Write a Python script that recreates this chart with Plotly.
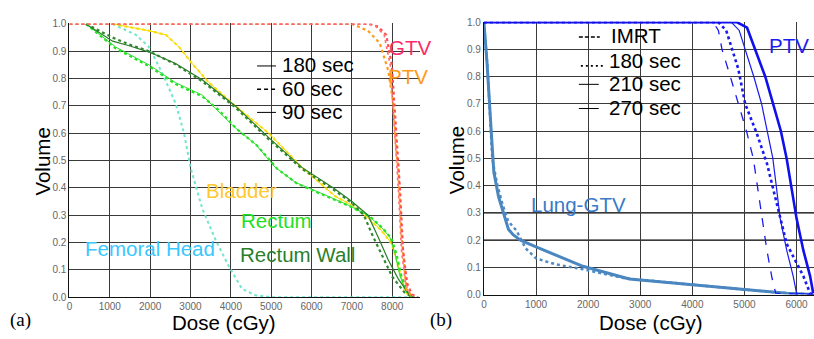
import plotly.graph_objects as go

# ---------------- Panel (a) data: dose (cGy) / volume fraction ----------------
gtv_dose = [0, 7400, 7600, 7800, 7950, 8050, 8150, 8230, 8330, 8450, 8600]
gtv_vol = [1.0, 1.0, 0.99, 0.96, 0.85, 0.62, 0.40, 0.17, 0.05, 0.01, 0.0]
gtv2_dose = [0, 7450, 7650, 7850, 7990, 8090, 8190, 8270, 8370, 8490, 8640]
gtv2_vol = [1.0, 1.0, 0.99, 0.96, 0.85, 0.62, 0.40, 0.17, 0.05, 0.01, 0.0]

ptv_dose = [0, 7000, 7400, 7690, 7900, 8025, 8100, 8150, 8230, 8350, 8500]
ptv_vol = [1.0, 1.0, 0.975, 0.93, 0.83, 0.71, 0.54, 0.47, 0.23, 0.03, 0.0]

bladder_dose = [1070, 1975, 2390, 2720, 3040, 3460, 4110, 4940, 5760, 6580, 7000, 7400, 7740, 7990, 8150, 8300, 8430]
bladder_vol = [1.0, 0.975, 0.96, 0.915, 0.855, 0.785, 0.70, 0.60, 0.475, 0.37, 0.337, 0.29, 0.243, 0.195, 0.113, 0.03, 0.0]

rectum_dose = [410, 1150, 1975, 2630, 3290, 3620, 4110, 4610, 5100, 5600, 6170, 6910, 7400, 7740, 7940, 8070, 8190, 8350, 8480]
rectum_vol = [1.0, 0.915, 0.85, 0.785, 0.74, 0.69, 0.62, 0.56, 0.475, 0.42, 0.385, 0.337, 0.30, 0.254, 0.22, 0.16, 0.078, 0.02, 0.0]
rectum2_dose = [410, 1150, 1975, 2630, 3290, 3700, 4150, 4650, 5150, 5650, 6200, 6950, 7450, 7780, 7980, 8110, 8230, 8380, 8500]
rectum2_vol = [1.0, 0.91, 0.845, 0.78, 0.735, 0.685, 0.615, 0.555, 0.47, 0.415, 0.38, 0.333, 0.295, 0.25, 0.215, 0.155, 0.075, 0.018, 0.0]

rwall_dose = [410, 1070, 1480, 1975, 2630, 3290, 4110, 4940, 5760, 6580, 7000, 7400, 7650, 7900, 8150, 8400, 8550]
rwall_vol = [1.0, 0.937, 0.92, 0.897, 0.855, 0.796, 0.70, 0.584, 0.475, 0.396, 0.35, 0.30, 0.22, 0.137, 0.067, 0.014, 0.0]
rwall2_dose = [410, 1070, 1480, 1975, 2630, 3290, 4110, 4940, 5760, 6580, 7000, 7300, 7500, 7750, 8000, 8300, 8500]
rwall2_vol = [1.0, 0.95, 0.925, 0.9, 0.852, 0.79, 0.695, 0.578, 0.47, 0.39, 0.345, 0.30, 0.23, 0.15, 0.075, 0.018, 0.0]

femoral_dose = [1070, 1650, 1975, 2300, 2630, 2840, 3000, 3290, 3620, 3950, 4280, 4610, 5000, 8600]
femoral_vol = [1.0, 0.96, 0.915, 0.82, 0.71, 0.60, 0.475, 0.325, 0.21, 0.113, 0.03, 0.007, 0.0, 0.0]

# ---------------- Panel (b) data ----------------
ptv_imrt_dose = [0, 4400, 4500, 4570, 4730, 4890, 5040, 5170, 5300, 5430, 5530, 5600, 6335]
ptv_imrt_vol = [1.0, 1.0, 0.97, 0.9, 0.8, 0.7, 0.6, 0.5, 0.34, 0.164, 0.06, 0.005, 0.0]
ptv_180_dose = [0, 4500, 4650, 4760, 4880, 5015, 5240, 5430, 5620, 5810, 6130, 6260, 6335]
ptv_180_vol = [1.0, 1.0, 0.97, 0.9, 0.83, 0.7, 0.59, 0.483, 0.34, 0.187, 0.068, 0.005, 0.0]
ptv_210_dose = [0, 4750, 4900, 5020, 5180, 5330, 5440, 5545, 5610, 5685, 5810, 5935, 6000, 6335]
ptv_210_vol = [1.0, 1.0, 0.97, 0.9, 0.8, 0.7, 0.6, 0.5, 0.4, 0.28, 0.164, 0.068, 0.005, 0.0]
ptv_270_dose = [0, 4860, 5050, 5210, 5400, 5550, 5700, 5810, 5900, 6000, 6130, 6260, 6320]
ptv_270_vol = [1.0, 1.0, 0.98, 0.9, 0.8, 0.7, 0.6, 0.5, 0.4, 0.28, 0.163, 0.068, 0.005]

lung_dose = [0, 60, 140, 190, 280, 370, 470, 560, 700, 1000, 1500, 1900, 2790, 3900, 4860, 5490, 5810, 6320]
lung_vol = [1.0, 0.85, 0.6, 0.45, 0.36, 0.3, 0.24, 0.22, 0.2, 0.175, 0.135, 0.104, 0.057, 0.037, 0.022, 0.01, 0.005, 0.0]
lung2_dose = [0, 70, 160, 260, 360, 465, 625, 800, 1000, 1380, 1900, 2700, 3800, 5000, 5600, 6320]
lung2_vol = [1.0, 0.83, 0.5, 0.4, 0.33, 0.27, 0.235, 0.17, 0.133, 0.111, 0.093, 0.06, 0.04, 0.018, 0.008, 0.0]

# tick labels
y_tickvals = [0.0, 0.1, 0.2, 0.3, 0.4, 0.5, 0.6, 0.7, 0.8, 0.9, 1.0]
y_ticktext = ["0.0", "0.1", "0.2", "0.3", "0.4", "0.5", "0.6", "0.7", "0.8", "0.9", "1.0"]
xa_tickvals = [0, 1000, 2000, 3000, 4000, 5000, 6000, 7000, 8000]
xb_tickvals = [0, 1000, 2000, 3000, 4000, 5000, 6000]

W, H = 814, 339


def PX(x):
    return x / W


def PY(y):
    return 1 - y / H


fig = go.Figure()


def add(x, y, color, dash, width, xa="x", ya="y"):
    fig.add_trace(go.Scatter(x=x, y=y, mode="lines", xaxis=xa, yaxis=ya,
                             line=dict(color=color, dash=dash, width=width),
                             showlegend=False, hoverinfo="skip"))


# panel a traces
add(femoral_dose, femoral_vol, "#70e6cc", "dot", 2)
add(bladder_dose, bladder_vol, "#ffe020", "dot", 2.2)
add(bladder_dose, bladder_vol, "#f5d800", "solid", 1)
add(rectum2_dose, rectum2_vol, "#22e022", "dot", 2.2)
add(rectum_dose, rectum_vol, "#30e030", "solid", 1)
add(rwall2_dose, rwall2_vol, "#2f8a2f", "dot", 2.2)
add(rwall_dose, rwall_vol, "#2a7d2a", "solid", 1.2)
add(ptv_dose, ptv_vol, "#ff9a1a", "dot", 2.2)
add(gtv2_dose, gtv2_vol, "#ff5050", "dot", 2.2)
add(gtv_dose, gtv_vol, "#ff7070", "dot", 1.6)

# panel b traces
add(lung2_dose, lung2_vol, "#4f8ac4", "dot", 2.5, "x2", "y2")
add(lung_dose, lung_vol, "#4a86c0", "solid", 3, "x2", "y2")
add(ptv_imrt_dose, ptv_imrt_vol, "#1a1aee", "dash", 1.3, "x2", "y2")
add(ptv_180_dose, ptv_180_vol, "#1a1aee", "dot", 2.6, "x2", "y2")
add(ptv_210_dose, ptv_210_vol, "#1a1aee", "solid", 1.2, "x2", "y2")
add(ptv_270_dose, ptv_270_vol, "#1010ee", "solid", 2.6, "x2", "y2")

tickfont = dict(family="Liberation Sans, Arial, sans-serif", size=10, color="#666")
axis_common = dict(showgrid=True, gridcolor="#3a3a3a", gridwidth=1, zeroline=False,
                   showline=True, linecolor="#111", linewidth=1.2, ticks="",
                   tickfont=tickfont, fixedrange=True, ticklabeloverflow="allow")

fig.update_layout(
    width=W, height=H, margin=dict(l=0, r=0, t=0, b=0),
    paper_bgcolor="white", plot_bgcolor="white",
    xaxis=dict(domain=[PX(66.7), PX(419)], range=[0, 8700], tickvals=xa_tickvals,
               ticktext=[str(v) for v in xa_tickvals], anchor="y", **axis_common),
    yaxis=dict(domain=[PY(302), PY(19)], range=[0, 1.002], tickvals=y_tickvals,
               ticktext=y_ticktext, anchor="x", **axis_common),
    xaxis2=dict(domain=[PX(482.7), 1.0], range=[0, 6335], tickvals=xb_tickvals,
                ticktext=[str(v) for v in xb_tickvals], anchor="y2", **axis_common),
    yaxis2=dict(domain=[PY(299.3), PY(17.3)], range=[0, 1.002], tickvals=y_tickvals,
                ticktext=y_ticktext, anchor="x2", **axis_common),
)

# emphasised reference lines in panel b
for v in [0.2, 0.3]:
    fig.add_shape(type="line", xref="x2 domain", yref="y2", x0=0, x1=1, y0=v, y1=v,
                  line=dict(color="black", width=1.4), layer="below")

sans = "Liberation Sans, Arial, sans-serif"
serif = "Liberation Serif, Times New Roman, serif"


def text(t, x, y, size=20.5, color="black", xanchor="left", family=sans, angle=0):
    xx = x - 3 if xanchor == "left" else x
    fig.add_annotation(text=t, x=PX(xx), y=PY(y), xref="paper", yref="paper",
                       showarrow=False, xanchor=xanchor, yanchor="middle",
                       font=dict(family=family, size=size, color=color), textangle=angle)


# axis titles
text("Volume", 40, 162, 20.5, xanchor="center", angle=-90)
text("Volume", 455, 160, 20.5, xanchor="center", angle=-90)
text("Dose (cGy)", 222, 328, 20.5, xanchor="center")
text("Dose (cGy)", 650, 328, 20.5, xanchor="center")
text("(a)", 18, 326, 19, xanchor="center", family=serif)
text("(b)", 440, 326, 19, xanchor="center", family=serif)

# structure labels
text("GTV", 388, 44, 20.5, "#ff2a6a")
text("PTV", 387, 74, 20.5, "#ff9a1a")
text("Bladder", 205, 192, 20.5, "#ffc830")
text("Rectum", 240, 223, 20.5, "#22e022")
text("Femoral Head", 83, 252, 20.5, "#38c8ff")
text("Rectum Wall", 239, 258, 20.5, "#2a7f2a")
text("PTV", 770, 42, 20.5, "#1c1cee")
text("Lung-GTV", 531, 206, 20.5, "#3a7ac8")

# legend (a)
text("180 sec", 281, 62)
text("60 sec", 281, 86)
text("90 sec", 281, 110)
# legend (b)
text("IMRT", 611, 32)
text("180 sec", 609, 57)
text("210 sec", 609, 81)
text("270 sec", 609, 106)


def seg(x0, x1, y, dash="solid", width=1):
    fig.add_shape(type="line", xref="paper", yref="paper", x0=PX(x0), x1=PX(x1),
                  y0=PY(y), y1=PY(y), line=dict(color="black", width=width, dash=dash))


seg(255, 274, 63)
seg(255, 275, 87, "4px,3px", 1.5)
seg(255, 274, 111)
seg(578, 599, 33, "4px,2px", 1.5)
seg(580, 602, 63, "2px,3px", 1.8)
seg(578, 598, 82)
seg(578, 598, 107)

fig.write_html("out.html")
